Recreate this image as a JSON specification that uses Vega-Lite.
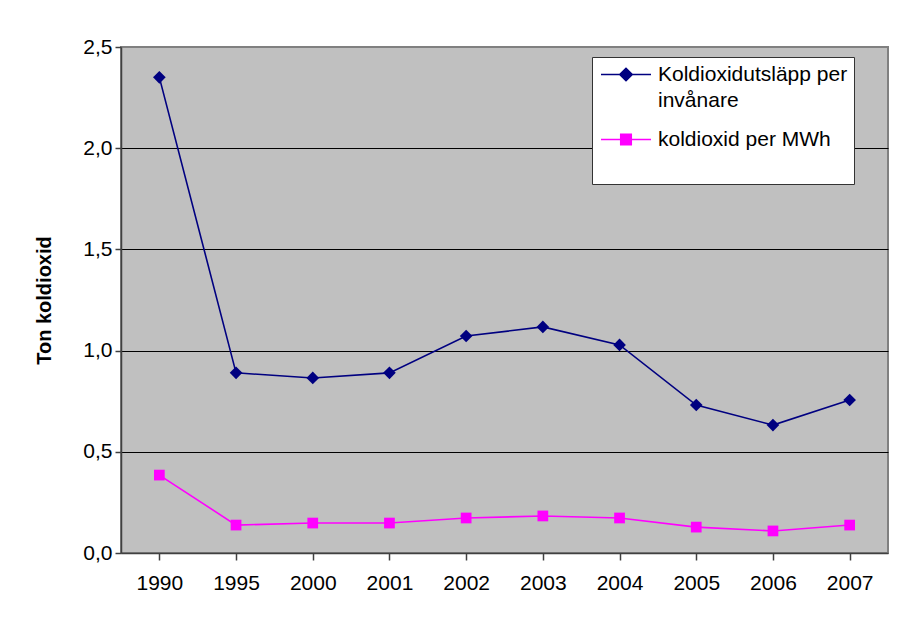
{
  "$schema": "https://vega.github.io/schema/vega-lite/v6.json",
  "width": 767,
  "height": 506,
  "autosize": {"type": "none"},
  "padding": {"left": 121, "top": 47, "right": 29, "bottom": 68},
  "background": "white",
  "config": {
    "font": "Liberation Sans",
    "view": {"fill": "#C0C0C0", "stroke": "#808080", "strokeWidth": 2}
  },
  "data": {
    "values": [
      {"year": "1990", "series": "Koldioxidutsläpp per invånare", "value": 2.35},
      {"year": "1995", "series": "Koldioxidutsläpp per invånare", "value": 0.89},
      {"year": "2000", "series": "Koldioxidutsläpp per invånare", "value": 0.865},
      {"year": "2001", "series": "Koldioxidutsläpp per invånare", "value": 0.89},
      {"year": "2002", "series": "Koldioxidutsläpp per invånare", "value": 1.072},
      {"year": "2003", "series": "Koldioxidutsläpp per invånare", "value": 1.117},
      {"year": "2004", "series": "Koldioxidutsläpp per invånare", "value": 1.028},
      {"year": "2005", "series": "Koldioxidutsläpp per invånare", "value": 0.731},
      {"year": "2006", "series": "Koldioxidutsläpp per invånare", "value": 0.632},
      {"year": "2007", "series": "Koldioxidutsläpp per invånare", "value": 0.756},
      {"year": "1990", "series": "koldioxid per MWh", "value": 0.385},
      {"year": "1995", "series": "koldioxid per MWh", "value": 0.138},
      {"year": "2000", "series": "koldioxid per MWh", "value": 0.148},
      {"year": "2001", "series": "koldioxid per MWh", "value": 0.148},
      {"year": "2002", "series": "koldioxid per MWh", "value": 0.173},
      {"year": "2003", "series": "koldioxid per MWh", "value": 0.183},
      {"year": "2004", "series": "koldioxid per MWh", "value": 0.173},
      {"year": "2005", "series": "koldioxid per MWh", "value": 0.128},
      {"year": "2006", "series": "koldioxid per MWh", "value": 0.109},
      {"year": "2007", "series": "koldioxid per MWh", "value": 0.138}
    ]
  },
  "encoding": {
    "x": {
      "field": "year",
      "type": "ordinal",
      "scale": {"paddingInner": 0, "paddingOuter": 0},
      "axis": {
        "labelAngle": 0,
        "bandPosition": 0,
        "domainColor": "#404040",
        "domainWidth": 1.5,
        "tickColor": "#404040",
        "tickSize": 7,
        "tickWidth": 1.5,
        "labelFontSize": 21,
        "labelColor": "black",
        "labelPadding": 12,
        "title": null,
        "grid": false
      }
    },
    "y": {
      "field": "value",
      "type": "quantitative",
      "scale": {"domain": [0, 2.5]},
      "axis": {
        "values": [0, 0.5, 1, 1.5, 2, 2.5],
        "labelExpr": "replace(format(datum.value, '.1f'), '.', ',')",
        "grid": true,
        "gridColor": {"condition": {"test": "datum.value >= 2.5 || datum.value <= 0", "value": "transparent"}, "value": "black"},
        "gridWidth": 1,
        "domainColor": "#404040",
        "domainWidth": 1.5,
        "tickColor": "#404040",
        "tickSize": 6,
        "tickWidth": 1.5,
        "labelFontSize": 21,
        "labelColor": "black",
        "labelPadding": 3,
        "title": "Ton koldioxid",
        "titleFontSize": 20,
        "titleFontWeight": "bold",
        "titleColor": "black",
        "titlePadding": 28
      }
    },
    "color": {
      "field": "series",
      "type": "nominal",
      "scale": {"domain": ["Koldioxidutsläpp per invånare", "koldioxid per MWh"], "range": ["#000080", "#FF00FF"]},
      "legend": {
        "orient": "none",
        "legendX": 471,
        "legendY": 10,
        "title": " ",
        "titleOrient": "bottom",
        "titleFontSize": 18,
        "titlePadding": 10,
        "fillColor": "white",
        "strokeColor": "#333333",
        "padding": 6.5,
        "labelFontSize": 21,
        "labelColor": "black",
        "labelOffset": 21,
        "labelLimit": 400,
        "symbolSize": 400,
        "symbolOffset": 16.5,
        "symbolStrokeWidth": 1.5,
        "rowPadding": 18,
        "labelExpr": "datum.label == 'Koldioxidutsläpp per invånare' ? ['Koldioxidutsläpp per', 'invånare'] : datum.label",
        "encode": {
          "labels": {
            "update": {
              "lineHeight": {"value": 26}
            }
          },
          "symbols": {
            "update": {
              "shape": {"signal": "datum.value == 'koldioxid per MWh' ? 'M-2.5,0H2.5M-0.53,-0.53H0.53V0.53H-0.53Z' : 'M-2.5,0H2.5M-0.63,0L0,-0.63L0.63,0L0,0.63Z'"},
              "fill": {"signal": "datum.value == 'koldioxid per MWh' ? '#FF00FF' : '#000080'"},
              "stroke": {"signal": "datum.value == 'koldioxid per MWh' ? '#FF00FF' : '#000080'"},
              "strokeWidth": {"value": 1.5},
              "size": {"value": 400},
              "opacity": {"value": 1}
            }
          }
        }
      }
    }
  },
  "layer": [
    {"mark": {"type": "line", "strokeWidth": 1.6}},
    {
      "transform": [{"filter": "datum.series == 'Koldioxidutsläpp per invånare'"}],
      "mark": {"type": "point", "filled": true, "opacity": 1, "shape": "diamond", "size": 160}
    },
    {
      "transform": [{"filter": "datum.series == 'koldioxid per MWh'"}],
      "mark": {"type": "point", "filled": true, "opacity": 1, "shape": "square", "size": 115}
    }
  ]
}
